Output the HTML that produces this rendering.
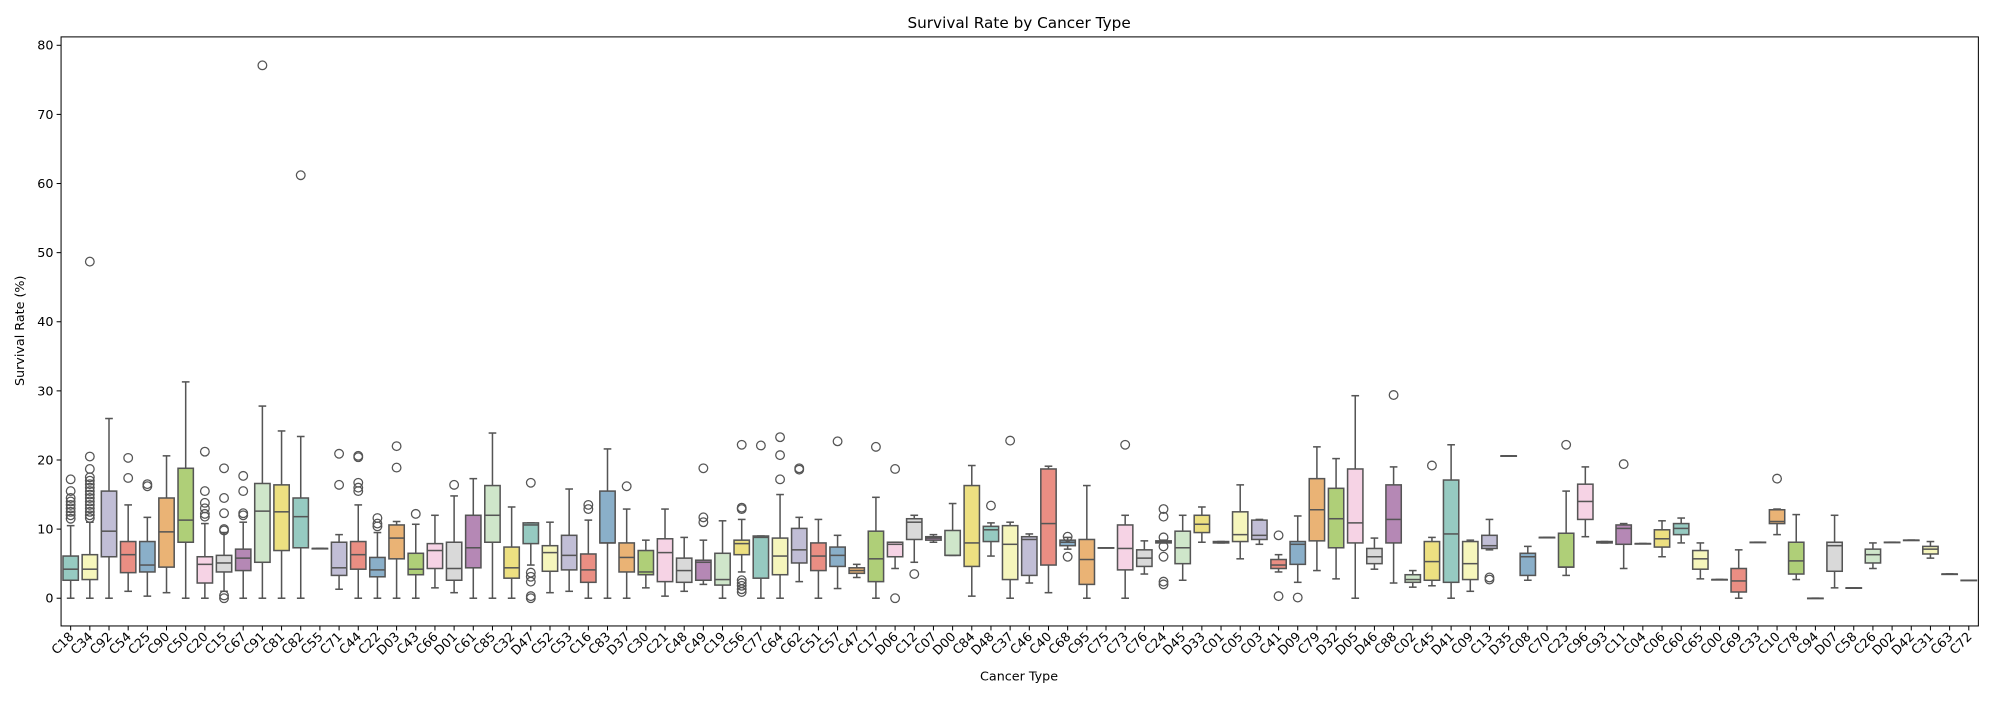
<!DOCTYPE html>
<html><head><meta charset="utf-8"><style>
html,body{margin:0;padding:0;background:#fff;}
svg text{font-family:"DejaVu Sans","Liberation Sans",sans-serif;fill:#000;}
</style></head><body>
<svg id="chart" width="2000" height="700" viewBox="0 0 1572 550.2" preserveAspectRatio="none" xmlns="http://www.w3.org/2000/svg">
<rect x="0" y="0" width="1572" height="551" fill="#fff"/>
<text x="801" y="22" font-size="12" text-anchor="middle">Survival Rate by Cancer Type</text>
<text x="0" y="0" font-size="10" text-anchor="middle" transform="translate(19,260) rotate(-90)">Survival Rate (%)</text>
<text x="801" y="535" font-size="10" text-anchor="middle">Cancer Type</text>
<g id="plot"></g>
<rect x="48" y="29" width="1507" height="463" fill="none" stroke="#000" stroke-width="0.8"/>
</svg>
<script>
const categories=["C18","C34","C92","C54","C25","C90","C50","C20","C15","C67","C91","C81","C82","C55","C71","C44","C22","D03","C43","C66","D01","C61","C85","C32","D47","C52","C53","C16","C83","D37","C30","C21","C48","C49","C19","C56","C77","C64","C62","C51","C57","C47","C17","D06","C12","C07","D00","C84","D48","C37","C46","C40","C68","C95","C75","C73","C76","C24","D45","D33","C01","C05","C03","C41","D09","C79","D32","D05","D46","C88","C02","C45","D41","C09","C13","D35","C08","C70","C23","C96","C93","C11","C04","C06","C60","C65","C00","C69","C33","C10","C78","C94","D07","C58","C26","D02","D42","C31","C63","C72"];
const whiskerLow=[0,0,0,1,0.3,0.8,0,0,1,0,0,0,0,7.2,1.3,0,0,0,0,1.5,0.8,0,0,0,4.8,0.8,1,0,0,0,1.5,0.3,1,2,0,3.8,0,0,2.4,0,1.4,3,0,4.3,5.2,8.1,6.2,0.3,6.1,0,2.2,0.8,7.1,0,7.3,0,3.5,8,2.6,8.1,8.0,5.7,7.8,3.8,2.3,4,2.8,0,4.2,2.2,1.6,1.8,0,1,7,20.6,2.6,8.8,3.3,8.9,8.0,4.3,7.9,6,8,2.8,2.7,0,8.1,9.2,2.7,0,1.5,1.5,4.3,8.1,8.4,5.8,3.5,2.6];
const q1=[2.6,2.7,6,3.7,3.8,4.5,8.1,2.2,3.8,4,5.2,6.9,7.3,7.2,3.3,4.2,3.1,5.7,3.4,4.3,2.6,4.4,8.1,2.9,7.9,3.9,4.1,2.3,8,3.8,3.4,2.4,2.3,2.6,1.9,6.3,2.9,3.4,5.1,4,4.6,3.6,2.4,6,8.5,8.4,6.2,4.6,8.2,2.7,3.3,4.8,7.6,2,7.3,4.1,4.6,8,5,9.5,8.0,8.2,8.5,4.3,4.9,8.3,7.3,8,5,8,2.3,2.6,2.3,2.7,7.2,20.6,3.3,8.8,4.5,11.4,8.0,7.8,7.9,7.4,9.2,4.2,2.7,0.9,8.1,10.8,3.5,0,3.9,1.5,5.1,8.1,8.4,6.4,3.5,2.6];
const medians=[4.2,4.2,9.7,6.3,4.8,9.6,11.3,4.9,5.1,5.8,12.6,12.5,11.8,7.2,4.4,6.3,4.1,8.7,4.2,6.9,4.3,7.3,12,4.4,10.6,6.6,6.2,4.1,8,5.9,3.8,6.6,4,5.2,2.7,7.9,8.8,6.1,7,6.1,6.2,4,5.7,7.8,11,8.7,6.2,8,9.9,7.8,8.5,10.8,8.1,5.6,7.3,7.2,5.8,8.1,7.3,10.7,8.1,9.2,9.1,4.8,7.8,12.8,11.5,10.9,6,11.4,2.7,5.3,9.3,5,7.6,20.6,6,8.8,4.5,14,8.1,10.1,7.9,8.6,10.1,5.7,2.7,2.5,8.1,11.1,5.4,0,7.6,1.5,6.3,8.1,8.4,7.1,3.5,2.6];
const q3=[6.1,6.3,15.5,8.2,8.2,14.5,18.8,6,6.2,7.1,16.6,16.4,14.5,7.2,8.1,8.2,5.9,10.6,6.5,7.9,8.1,12,16.3,7.4,10.9,7.6,9.1,6.4,15.5,8,6.9,8.6,5.8,5.5,6.5,8.4,9,8.7,10.1,8,7.4,4.4,9.7,8.1,11.5,8.9,9.8,16.3,10.4,10.5,8.9,18.7,8.4,8.5,7.3,10.6,7,8.3,9.7,12,8.2,12.5,11.3,5.6,8.2,17.3,15.9,18.7,7.2,16.4,3.4,8.2,17.1,8.2,9.1,20.6,6.5,8.8,9.4,16.5,8.2,10.6,7.9,9.9,10.8,6.9,2.7,4.3,8.1,12.8,8.1,0,8.1,1.5,7.1,8.1,8.4,7.5,3.5,2.6];
const whiskerHigh=[10.5,11,26,13.5,11.7,20.6,31.3,10.8,9.5,11,27.8,24.2,23.4,7.2,9.2,13.5,9.5,11.1,10.7,12,14.8,17.3,23.9,13.2,10.9,11,15.8,11.3,21.6,12.9,8.4,12.9,8.8,8.4,11.2,11.4,9,15,11.7,11.4,9.1,4.9,14.6,8.1,12,9.2,13.7,19.2,10.9,11,9.3,19.1,8.8,16.3,7.3,12,8.3,8.4,12,13.2,8.2,16.4,11.4,6.3,11.9,21.9,20.2,29.3,8.7,19,4,8.8,22.2,8.4,11.4,20.6,7.5,8.8,15.5,19,8.2,10.8,7.9,11.2,11.6,8,2.7,7,8.1,12.9,12.1,0,12,1.5,8,8.1,8.4,8.2,3.5,2.6];
const outliers=[[11.5,12,12.5,13,13.5,14,14.5,15.5,17.2],[11.6,12,12.5,13,13.5,14,14.5,15,15.5,16,16.5,17,17.5,18.7,20.5,48.7],[],[17.4,20.3],[16.2,16.5],[],[],[11.8,12.2,13,13.8,15.5,21.2],[0,0.4,9.8,10,12.3,14.5,18.8],[12,12.3,15.5,17.7],[77.1],[],[61.2],[],[16.4,20.9],[15.5,16,16.7,20.4,20.6],[10.4,10.8,11.6],[18.9,22],[12.2],[],[16.4],[],[],[],[0,0.3,2.4,3.1,3.7,16.7],[],[],[12.9,13.5],[],[16.2],[],[],[],[11,11.7,18.8],[],[0.9,1.3,1.8,2.2,2.6,12.9,13.1,22.2],[22.1],[17.2,20.7,23.3],[18.6,18.8],[],[22.7],[],[21.9],[0,18.7],[3.5],[],[],[],[13.4],[22.8],[],[],[6,8.9],[],[],[22.2],[],[2,2.4,6,7.5,8.8,11.8,12.9],[],[],[],[],[],[0.3,9.1],[0.1],[],[],[],[],[29.4],[],[19.2],[],[],[2.7,3],[],[],[],[22.2],[],[],[19.4],[],[],[],[],[],[],[],[17.3],[],[],[],[],[],[],[],[],[],[]];
const yTicks=[0,10,20,30,40,50,60,70,80];

const set3=["#8dd3c7","#ffffb3","#bebada","#fb8072","#80b1d3","#fdb462","#b3de69","#fccde5","#d9d9d9","#bc80bd","#ccebc5","#ffed6f"];
function desat(hex,p){let r=parseInt(hex.substr(1,2),16)/255,g=parseInt(hex.substr(3,2),16)/255,b=parseInt(hex.substr(5,2),16)/255;
 const mx=Math.max(r,g,b),mn=Math.min(r,g,b);let h=0,s=0,l=(mx+mn)/2;
 if(mx!==mn){const d=mx-mn;s=l>0.5?d/(2-mx-mn):d/(mx+mn);
  if(mx===r)h=(g-b)/d+(g<b?6:0);else if(mx===g)h=(b-r)/d+2;else h=(r-g)/d+4;h/=6;}
 s*=p;const hue=(p1,q,t)=>{if(t<0)t+=1;if(t>1)t-=1;if(t<1/6)return p1+(q-p1)*6*t;if(t<1/2)return q;if(t<2/3)return p1+(q-p1)*(2/3-t)*6;return p1;};
 let q=l<0.5?l*(1+s):l+s-l*s,pp=2*l-q;
 const c=[hue(pp,q,h+1/3),hue(pp,q,h),hue(pp,q,h-1/3)].map(v=>Math.round(v*255));
 return "rgb("+c.join(",")+")";}
const X0=48,X1=1555,Y0=29,Y1=492;
const step=(X1-X0)/categories.length;
function xScale(i){return X0+step*(i+0.5);}
function yScale(v){return 470.2-v*(470.2-35.6)/80;}
const NS="http://www.w3.org/2000/svg";
const plot=document.getElementById('plot');
function mk(tag,attrs,parent){const e=document.createElementNS(NS,tag);for(const k in attrs)e.setAttribute(k,attrs[k]);(parent||plot).appendChild(e);return e;}
const lc="#555";
// y ticks
yTicks.forEach(t=>{const y=yScale(t);
 const tk=mk('line',{x1:X0-3.5,x2:X0,y1:y,y2:y,stroke:'#000','stroke-width':0.8});
 
 
 const tx=mk('text',{x:X0-6,y:y+3.5,'font-size':10,'text-anchor':'end'});tx.textContent=t;
 
 
});
const bw=step*0.8;
categories.forEach((c,i)=>{
 const cx=xScale(i);
 const g=mk('g',{});
 
 
 const col=desat(set3[i%12],0.75);
 const yl=yScale(whiskerLow[i]),yq1=yScale(q1[i]),ym=yScale(medians[i]),yq3=yScale(q3[i]),yh=yScale(whiskerHigh[i]);
 mk('line',{x1:cx,x2:cx,y1:yq1,y2:yl,stroke:lc,'stroke-width':1.2},g);
 mk('line',{x1:cx,x2:cx,y1:yq3,y2:yh,stroke:lc,'stroke-width':1.2},g);
 mk('line',{x1:cx-bw/4,x2:cx+bw/4,y1:yl,y2:yl,stroke:lc,'stroke-width':1.2},g);
 mk('line',{x1:cx-bw/4,x2:cx+bw/4,y1:yh,y2:yh,stroke:lc,'stroke-width':1.2},g);
 mk('rect',{x:cx-bw/2,y:yq3,width:bw,height:Math.max(yq1-yq3,0.3),fill:col,stroke:lc,'stroke-width':1.2},g);
 mk('line',{x1:cx-bw/2,x2:cx+bw/2,y1:ym,y2:ym,stroke:lc,'stroke-width':1.2},g);
 outliers[i].forEach(v=>{mk('circle',{cx:cx,cy:yScale(v),r:3.4,fill:'none',stroke:lc,'stroke-width':1},g);});
 const tk=mk('line',{x1:cx,x2:cx,y1:Y1,y2:Y1+3.5,stroke:'#000','stroke-width':0.8});
 
 
 const tx=mk('text',{x:0,y:0,'font-size':10,'text-anchor':'end',transform:'translate('+(cx+3)+','+(Y1+9)+') rotate(-45)'});
 tx.textContent=c;
 
 
});
</script>
</body></html>
